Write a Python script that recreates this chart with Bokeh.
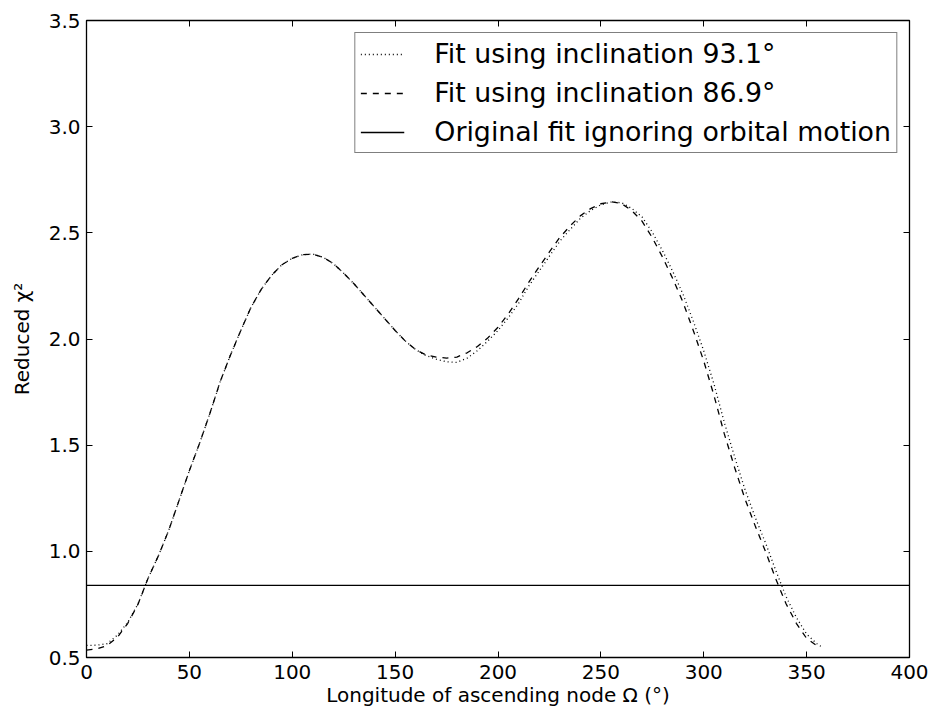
from bokeh.plotting import figure
from bokeh.models import (Range1d, LinearAxis, FixedTicker, NumeralTickFormatter, Legend,
                          LegendItem, CustomLabelingPolicy)
from bokeh.embed import file_html
from bokeh.resources import INLINE

# ---- data ----
omega = [0, 5, 10, 15, 20, 25, 30, 35, 40, 45, 50, 55, 60, 65, 70, 75, 80, 85, 90, 95,
         100, 105, 110, 115, 120, 125, 130, 135, 140, 145, 150, 155, 160, 165, 170, 175,
         180, 185, 190, 195, 200, 205, 210, 215, 220, 225, 230, 235, 240, 245, 250, 255,
         260, 265, 270, 275, 280, 285, 290, 295, 300, 305, 310, 315, 320, 325, 330, 335,
         340, 345, 350, 355]

chi_869 = [0.535, 0.540, 0.556, 0.595, 0.660, 0.750, 0.875, 0.980, 1.100, 1.240, 1.380,
           1.510, 1.650, 1.800, 1.925, 2.040, 2.150, 2.235, 2.300, 2.350, 2.380, 2.397,
           2.400, 2.385, 2.355, 2.310, 2.260, 2.205, 2.150, 2.095, 2.040, 1.990, 1.950,
           1.925, 1.915, 1.910, 1.915, 1.935, 1.965, 2.005, 2.055, 2.118, 2.190, 2.268,
           2.340, 2.410, 2.478, 2.532, 2.580, 2.614, 2.637, 2.646, 2.638, 2.605, 2.555,
           2.477, 2.385, 2.283, 2.171, 2.038, 1.896, 1.733, 1.553, 1.395, 1.248, 1.120,
           1.000, 0.870, 0.753, 0.661, 0.590, 0.555]

omega_931 = omega + [358]
chi_931 = [0.557, 0.558, 0.565, 0.605, 0.665, 0.752, 0.875, 0.980, 1.100, 1.240, 1.380,
           1.510, 1.650, 1.800, 1.925, 2.040, 2.150, 2.235, 2.300, 2.350, 2.380, 2.397,
           2.400, 2.385, 2.355, 2.310, 2.260, 2.205, 2.150, 2.095, 2.040, 1.990, 1.950,
           1.922, 1.905, 1.893, 1.890, 1.910, 1.945, 1.990, 2.040, 2.100, 2.168, 2.250,
           2.320, 2.390, 2.460, 2.515, 2.568, 2.605, 2.632, 2.645, 2.642, 2.615, 2.575,
           2.503, 2.415, 2.317, 2.209, 2.082, 1.944, 1.787, 1.607, 1.445, 1.292, 1.160,
           1.040, 0.910, 0.787, 0.689, 0.610, 0.565, 0.545]

orig_x = [0, 400]
orig_chi = [0.84, 0.84]

x_ticks = [0, 50, 100, 150, 200, 250, 300, 350, 400]
y_ticks = [0.5, 1.0, 1.5, 2.0, 2.5, 3.0, 3.5]

label_93 = "Fit using inclination 93.1°"
label_87 = "Fit using inclination 86.9°"
label_orig = "Original fit ignoring orbital motion"

FONT = "DejaVu Sans"

p = figure(frame_width=823, frame_height=637,
           x_range=Range1d(0, 400), y_range=Range1d(0.5, 3.5),
           output_backend="svg", toolbar_location=None,
           min_border_left=86, min_border_top=20, min_border_right=20, min_border_bottom=40)
p.xgrid.visible = False
p.ygrid.visible = False
p.background_fill_color = "white"
p.border_fill_color = "white"
p.outline_line_color = "black"
p.outline_line_width = 1.3
p.outline_line_alpha = 1.0

r_dot = p.line(omega_931, chi_931, line_color="black", line_width=1.3, line_dash="1 3")
r_dash = p.line(omega, chi_869, line_color="black", line_width=1.3, line_dash="6 6")
r_orig = p.line(orig_x, orig_chi, line_color="black", line_width=1.3)

no_labels = CustomLabelingPolicy(code="return []")

def style_axis(ax, ticks, show_labels):
    ax.ticker = FixedTicker(ticks=ticks)
    ax.axis_line_color = None
    ax.major_tick_in = 6
    ax.major_tick_out = 0
    ax.major_tick_line_color = "black"
    ax.major_tick_line_width = 1
    ax.minor_tick_line_color = None
    ax.major_label_text_font = FONT
    ax.major_label_text_color = "black"
    ax.major_label_text_font_size = "20px"
    if not show_labels:
        ax.major_label_policy = no_labels
        ax.major_label_standoff = 0

xa = p.xaxis[0]
style_axis(xa, x_ticks, True)
xa.major_label_standoff = 7
xa.axis_label = "Longitude of ascending node Ω (°)"
xa.axis_label_text_font = FONT
xa.axis_label_text_font_size = "20px"
xa.axis_label_text_font_style = "normal"
xa.axis_label_text_color = "black"
xa.axis_label_standoff = 1

ya = p.yaxis[0]
style_axis(ya, y_ticks, True)
ya.formatter = NumeralTickFormatter(format="0.0")
ya.major_label_standoff = 6
ya.axis_label = "Reduced χ²"
ya.axis_label_text_font = FONT
ya.axis_label_text_font_size = "20px"
ya.axis_label_text_font_style = "normal"
ya.axis_label_text_color = "black"
ya.axis_label_standoff = 12

top = LinearAxis()
style_axis(top, x_ticks, False)
p.add_layout(top, "above")
right = LinearAxis()
style_axis(right, y_ticks, False)
p.add_layout(right, "right")

legend = Legend(items=[LegendItem(label=label_93, renderers=[r_dot]),
                       LegendItem(label=label_87, renderers=[r_dash]),
                       LegendItem(label=label_orig, renderers=[r_orig])],
                location="top_right")
legend.label_text_font = FONT
legend.label_text_font_size = "26.8px"
legend.label_text_color = "black"
legend.border_line_color = "black"
legend.border_line_width = 1
legend.background_fill_color = "white"
legend.background_fill_alpha = 1.0
legend.glyph_width = 44
legend.label_standoff = 30
legend.padding = 5
legend.spacing = 8
legend.margin = 12
p.add_layout(legend, "center")

open("out.html", "w").write(file_html(p, INLINE))
